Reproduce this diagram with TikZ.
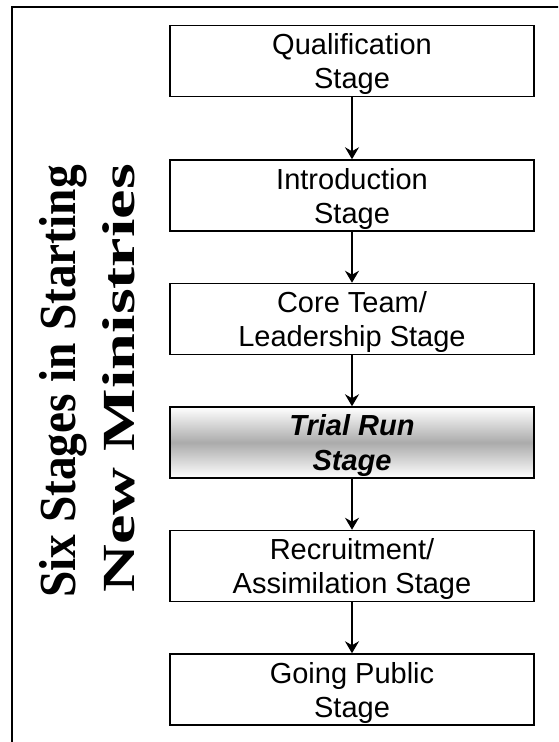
\documentclass[tikz,border=0pt]{standalone}
\usepackage{fontspec}
\setmainfont{Liberation Serif}
\setsansfont{Liberation Sans}
\usetikzlibrary{arrows.meta,positioning}

\tikzset{
  stagebox/.style={draw, line width=1.5pt, minimum width=364pt, minimum height=71pt,
    inner sep=0pt, align=center, font=\sffamily\fontsize{29}{34}\selectfont, text depth=-2pt},
  trialbox/.style={stagebox, top color=white, bottom color=white, middle color=black!33,
    font=\sffamily\bfseries\itshape\fontsize{29}{35}\selectfont},
  flow/.style={-{Stealth[length=12pt,width=14pt,inset=4pt]}, line width=1.5pt},
  titleline/.style={rotate=90, anchor=base west, inner sep=0pt},
}

\begin{document}
\begin{tikzpicture}[x=1pt,y=1pt]
\useasboundingbox (0,0) rectangle (558,-742);
\clip (0,0) rectangle (558,-742);
% outer frame, open to the right and bottom
\draw[line width=2pt] (12,-760) -- (12,-7) -- (570,-7);
% title, two rotated lines of equal length
\node[titleline, xscale=0.91, font=\bfseries\fontsize{52}{52}\selectfont] (titletop) at (75,-598) {Six Stages in Starting};
\node[titleline, xscale=1.44, font=\bfseries\fontsize{46}{46}\selectfont] (titlebottom) at (134,-593) {New Ministries};
% stages
\node[stagebox] (qual) at (352,-61) {Qualification\\Stage};
\node[stagebox, below=62pt of qual] (intro) {Introduction\\Stage};
\node[stagebox, below=51pt of intro] (core) {Core Team/\\Leadership Stage};
\node[trialbox, below=51pt of core] (trial) {Trial Run\\Stage};
\node[stagebox, below=51pt of trial] (recruit) {Recruitment/\\Assimilation Stage};
\node[stagebox, below=51pt of recruit] (public) {Going Public\\Stage};
% arrows
\draw[flow] (qual) -- (intro);
\draw[flow] (intro) -- (core);
\draw[flow] (core) -- (trial);
\draw[flow] (trial) -- (recruit);
\draw[flow] (recruit) -- (public);
\end{tikzpicture}
\end{document}
